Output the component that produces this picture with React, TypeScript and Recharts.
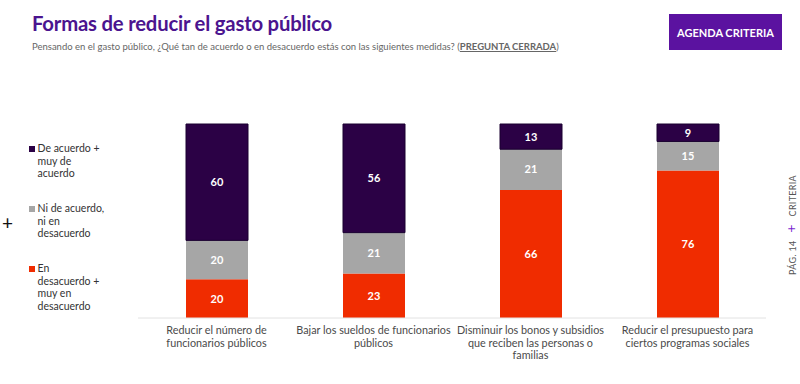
import { BarChart, Bar, XAxis, YAxis, LabelList, Legend } from 'recharts'

const categories = [
  'Reducir el número de|funcionarios públicos',
  'Bajar los sueldos de funcionarios|públicos',
  'Disminuir los bonos y subsidios|que reciben las personas o|familias',
  'Reducir el presupuesto para|ciertos programas sociales',
]
const desacuerdo = [20, 23, 66, 76]
const neutral = [20, 21, 21, 15]
const acuerdo = [60, 56, 13, 9]

const seriesNames = {
  acuerdo: 'De acuerdo +|muy de|acuerdo',
  neutral: 'Ni de acuerdo,|ni en|desacuerdo',
  desacuerdo: 'En|desacuerdo +|muy en|desacuerdo',
}

const colors = {
  acuerdo: '#2b0145',
  neutral: '#a6a6a6',
  desacuerdo: '#f02c00',
  purple: '#4b148f',
  button: '#5b12a0',
}

const font = 'Lato, "Open Sans", sans-serif'

const data = categories.map((c, i) => ({
  name: c,
  desacuerdo: desacuerdo[i],
  neutral: neutral[i],
  acuerdo: acuerdo[i],
}))

function Tick({ x, y, payload }: any) {
  const lines = String(payload.value).split('|')
  return (
    <text x={x} y={y + 8} textAnchor="middle" fill="#4a4a4a" fontSize={10.8} fontFamily={font}>
      {lines.map((l, i) => (
        <tspan key={i} x={x} dy={i === 0 ? 0 : 12.5}>{l}</tspan>
      ))}
    </text>
  )
}

function LegendBox() {
  const items = [
    { key: 'acuerdo', top: 142 },
    { key: 'neutral', top: 202 },
    { key: 'desacuerdo', top: 262 },
  ] as const
  return (
    <div style={{ position: 'absolute', left: 0, top: 0, width: 130, height: 384 }}>
      {items.map((it) => (
        <div key={it.key} style={{ position: 'absolute', left: 29, top: it.top, display: 'flex', fontFamily: font, fontSize: 10.5, color: '#333', lineHeight: '12.5px' }}>
          <span style={{ width: 6, height: 6, background: colors[it.key], marginTop: 3.5, marginRight: 2.5, flex: 'none' }} />
          <span>
            {seriesNames[it.key].split('|').map((l, i) => (
              <div key={i}>{l}</div>
            ))}
          </span>
        </div>
      ))}
    </div>
  )
}

export default function App() {
  return (
    <div style={{ position: 'absolute', left: 0, top: 0, width: 800, height: 384, background: '#fff', overflow: 'hidden', fontFamily: font }}>
      <div style={{ position: 'absolute', left: 32, top: 11, fontSize: 20.3, fontWeight: 700, color: colors.purple, letterSpacing: -0.2 }}>
        Formas de reducir el gasto público
      </div>
      <div style={{ position: 'absolute', left: 32, top: 41, fontSize: 9.5, color: '#666' }}>
        Pensando en el gasto público, ¿Qué tan de acuerdo o en desacuerdo estás con las siguientes medidas? (
        <span style={{ textDecoration: 'underline', fontWeight: 700 }}>PREGUNTA CERRADA</span>)
      </div>
      <div style={{ position: 'absolute', left: 669, top: 14, width: 113, height: 36, background: colors.button, color: '#fff', fontSize: 11, fontWeight: 700, display: 'flex', alignItems: 'center', justifyContent: 'center' }}>
        AGENDA CRITERIA
      </div>
      <div style={{ position: 'absolute', left: 2, top: 211, fontSize: 19, color: '#111', lineHeight: '24px' }}>+</div>
      <div style={{ position: 'absolute', left: 790, top: 225, transform: 'translate(-50%, -50%) rotate(-90deg)', whiteSpace: 'nowrap', fontSize: 9, color: '#555', letterSpacing: 0.3 }}>
        PÁG. 14&nbsp;&nbsp;&nbsp;<span style={{ color: '#7a1fd0', fontSize: 14 }}>+</span>&nbsp;&nbsp;&nbsp;CRITERIA
      </div>
      <BarChart width={800} height={384} data={data} margin={{ top: 124, right: 34, bottom: 0, left: 138 }}>
        <YAxis hide domain={[0, 100]} />
        <XAxis dataKey="name" height={66} interval={0} tickLine={false} axisLine={{ stroke: '#e2e2e2' }} tick={<Tick />} />
        <Legend content={() => null} />
        <Bar dataKey="desacuerdo" stackId="a" fill={colors.desacuerdo} barSize={62} isAnimationActive={false}>
          <LabelList dataKey="desacuerdo" position="center" fill="#fff" fontSize={11} fontWeight={700} fontFamily={font} />
        </Bar>
        <Bar dataKey="neutral" stackId="a" fill={colors.neutral} barSize={62} isAnimationActive={false}>
          <LabelList dataKey="neutral" position="center" fill="#fff" fontSize={11} fontWeight={700} fontFamily={font} />
        </Bar>
        <Bar dataKey="acuerdo" stackId="a" fill={colors.acuerdo} stroke="#1a0030" strokeWidth={1} barSize={62} isAnimationActive={false}>
          <LabelList dataKey="acuerdo" position="center" fill="#fff" fontSize={11} fontWeight={700} fontFamily={font} />
        </Bar>
      </BarChart>
      <LegendBox />
    </div>
  )
}
